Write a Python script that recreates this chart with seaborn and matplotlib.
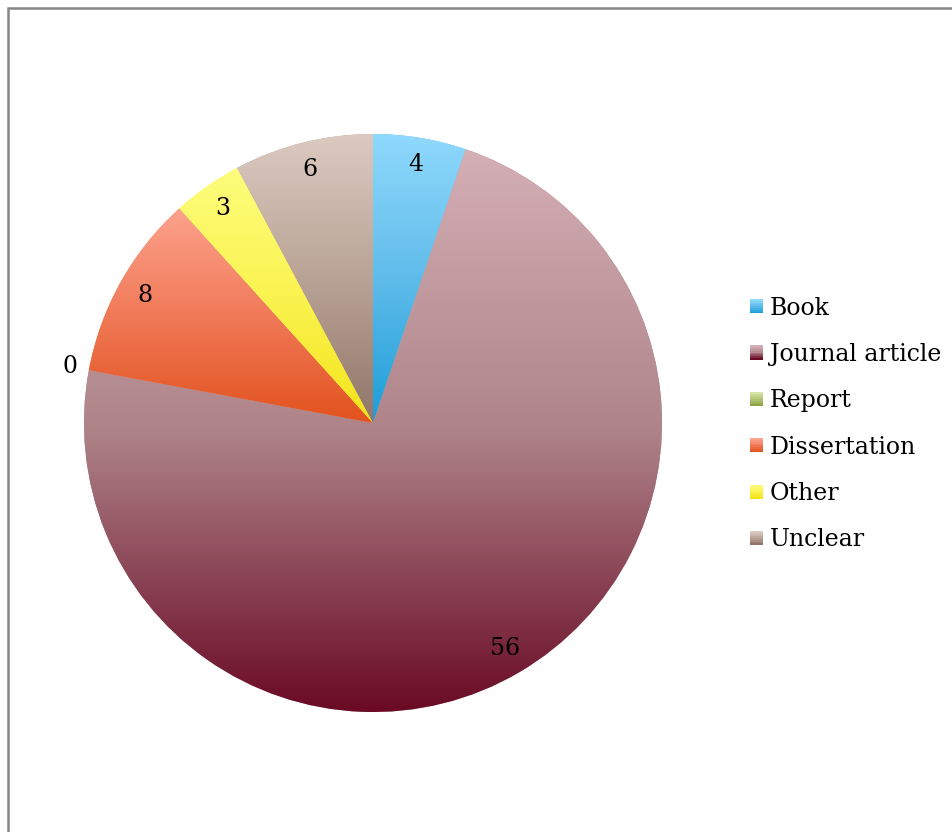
import matplotlib.pyplot as plt
import numpy as np
import seaborn as sns
from matplotlib.colors import LinearSegmentedColormap
from matplotlib.legend_handler import HandlerBase
from matplotlib.patches import Patch, Rectangle

CATEGORIES = ["Book", "Journal article", "Report", "Dissertation", "Other", "Unclear"]
COUNTS = [4, 56, 0, 8, 3, 6]

# gradient stops per slice, light at the top, dark at the bottom
GRADIENTS = {
    "Book": ["#8fd9fc", "#5fbcea", "#1c9dd8"],
    "Journal article": ["#d4afb5", "#ae8489", "#6a0a25"],
    "Report": ["#d5e5a8", "#b3c677", "#8ea446"],
    "Dissertation": ["#fda28d", "#f07a58", "#e2521d"],
    "Other": ["#fdfd7d", "#faf350", "#f4e31a"],
    "Unclear": ["#dcc9c0", "#b9a396", "#917668"],
}

FONT = ["DejaVu Serif"]
FONT_SIZE = 17


def setup_style():
    sns.set_theme(style="white")
    plt.rcParams["font.family"] = FONT
    plt.rcParams["text.color"] = "black"


def make_cmap(colors):
    return LinearSegmentedColormap.from_list("g", colors[::-1])


def gradient_fill(ax, wedge, colors):
    box = wedge.get_path().get_extents()
    grad = np.linspace(0, 1, 256).reshape(-1, 1)
    im = ax.imshow(grad, cmap=make_cmap(colors), aspect="auto", origin="lower",
                   extent=(box.x0, box.x1, box.y0, box.y1), zorder=wedge.get_zorder() + 0.1,
                   interpolation="bilinear")
    im.set_clip_path(wedge)


class GradientSquare(HandlerBase):
    def create_artists(self, legend, orig_handle, xdescent, ydescent, width, height, fontsize, trans):
        cmap = make_cmap(GRADIENTS[orig_handle.get_label()])
        n = 8
        out = []
        for i in range(n):
            out.append(Rectangle((-xdescent, -ydescent + height * i / n), width, height / n + 0.01,
                                 facecolor=cmap(i / (n - 1)), edgecolor="none", transform=trans))
        return out


def main():
    setup_style()
    fig = plt.figure(figsize=(9.53, 8.32), dpi=100)
    fig.patch.set_facecolor("white")
    # outer frame, only top and left edges fall inside the picture
    fig.add_artist(Rectangle((8 / 953, -0.5), 2.0, 1.5 - 8 / 832, transform=fig.transFigure,
                             fill=False, edgecolor="#858585", linewidth=1.8))

    ax = fig.add_axes([84 / 953, (832 - 712) / 832, 578 / 953, 578 / 832])
    mids = [GRADIENTS[c][1] for c in CATEGORIES]
    wedges, _ = ax.pie(COUNTS, colors=mids, startangle=90, counterclock=False,
                       radius=1.0, wedgeprops={"linewidth": 0})
    for w, c in zip(wedges, CATEGORIES):
        gradient_fill(ax, w, GRADIENTS[c])

    for w, v in zip(wedges, COUNTS):
        ang = np.deg2rad((w.theta1 + w.theta2) / 2)
        dist = 1.065 if v == 0 else 0.905
        ax.text(dist * np.cos(ang), dist * np.sin(ang), str(v), ha="center", va="center",
                fontsize=FONT_SIZE, color="black")

    ax.set_xlim(-1, 1)
    ax.set_ylim(-1, 1)
    ax.set_aspect("equal")
    ax.axis("off")

    handles = [Patch(facecolor=GRADIENTS[c][1], edgecolor="none", label=c) for c in CATEGORIES]
    leg = fig.legend(handles=handles, loc="center left", bbox_to_anchor=(750 / 953, 1 - 424 / 832),
                     frameon=False, fontsize=FONT_SIZE, handlelength=0.55, handleheight=0.55,
                     handletextpad=0.3, labelspacing=0.99, borderpad=0, borderaxespad=0,
                     handler_map={Patch: GradientSquare()})
    for t in leg.get_texts():
        t.set_color("black")

    fig.savefig("out.png", dpi=100, facecolor="white")
    plt.close(fig)


if __name__ == "__main__":
    main()
